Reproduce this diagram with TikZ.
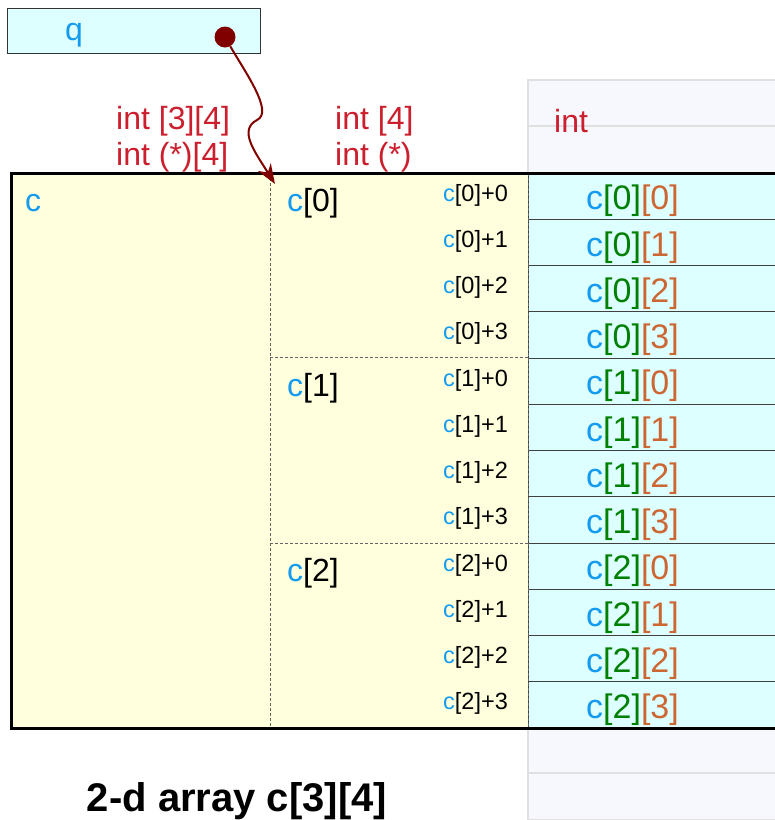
\documentclass[tikz,border=0pt]{standalone}
\usepackage{fontspec}
\setmainfont{Liberation Sans}
\usetikzlibrary{arrows.meta,positioning,calc}
\definecolor{cblue}{RGB}{20,155,240}
\definecolor{idxgreen}{RGB}{0,128,0}
\definecolor{idxorange}{RGB}{204,102,51}
\definecolor{typered}{RGB}{204,30,45}
\definecolor{ptrred}{RGB}{128,0,0}
\definecolor{cellcyan}{RGB}{221,255,255}
\definecolor{areayellow}{RGB}{255,255,221}
\definecolor{panelgray}{RGB}{247,248,253}

\begin{document}
\begin{tikzpicture}[x=1pt, y=-1pt,
    bigfont/.style={font=\fontsize{32}{38}\selectfont},
    elemfont/.style={font=\fontsize{34}{40}\selectfont},
    smallfont/.style={font=\fontsize{23.5}{28}\selectfont},
    elem/.style={elemfont, anchor=west, inner sep=0pt},
    rowname/.style={bigfont, anchor=west, inner sep=0pt},
    offs/.style={smallfont, anchor=west, inner sep=0pt},
    typelabel/.style={bigfont, anchor=west, inner sep=0pt, text=typered},
    cellline/.style={draw=black!75, line width=0.8pt, fill=cellcyan},
    divider/.style={draw=black!60, line width=0.6pt, dash pattern=on 3pt off 2pt},
    ptr/.style={draw=ptrred, line width=2pt, -{Stealth[length=20pt, width=15pt]}},
]
    \useasboundingbox (0,0) rectangle (775,820);

    % memory panel above and below the int cells
    \fill[panelgray] (528,80) rectangle (790,173);
    \fill[panelgray] (528,728) rectangle (790,830);
    \draw[black!12, line width=1.2pt] (528,830) -- (528,80) -- (790,80);
    \draw[black!12, line width=1.2pt] (528,126) -- (790,126);
    \draw[black!12, line width=1.2pt] (528,773) -- (790,773);
    \draw[black!12, line width=1.2pt] (528,820) -- (790,820);

    % array area
    \fill[areayellow] (11,173) rectangle (528,728);

    % int cells
    \foreach \k in {0,...,11}{
        \draw[cellline] (528,{173+46.25*\k}) rectangle (790,{173+46.25*(\k+1)});
    }

    % row dividers
    \draw[divider] (270,173) -- (270,728);
    \draw[divider] (528,173) -- (528,728);
    \draw[divider] (270,357.5) -- (528,357.5);
    \draw[divider] (270,543) -- (528,543);

    % outer frame
    \draw[line width=3pt] (800,173) -- (11,173) -- (11,728) -- (800,728);

    % type labels
    \node[typelabel] (t2a) at (116,121) {int [3][4]};
    \node[typelabel] (t2b) at (116,157) {int (*)[4]};
    \node[typelabel] (t1a) at (335,121) {int [4]};
    \node[typelabel] (t1b) at (335,157) {int (*)};
    \node[typelabel] (t0) at (554,121) {int};

    % names
    \node[rowname, text=cblue] (cname) at (25,203) {c};
    \foreach \i in {0,1,2}{
        \node[rowname] (row\i) at (287,{203+185*\i}) {\textcolor{cblue}{c}[\i]};
        \foreach \j in {0,1,2,3}{
            \pgfmathtruncatemacro{\k}{4*\i+\j}
            \node[offs] (off\i\j) at (443,{195+46.25*\k}) {\textcolor{cblue}{c}[\i]+\j};
            \node[elem] (el\i\j) at (586,{201+46.25*\k})
                {\textcolor{cblue}{c}\textcolor{idxgreen}{[\i]}\textcolor{idxorange}{[\j]}};
        }
    }

    % pointer q
    \node[draw=black!80, line width=0.8pt, fill=cellcyan, anchor=north west,
          minimum width=253pt, minimum height=45pt, inner sep=0pt] (qbox) at (7,8) {};
    \node[rowname, text=cblue] (qname) at (65,35) {q};
    \node[circle, fill=ptrred, minimum size=21pt, inner sep=0pt] (qdot) at (225,37) {};
    \coordinate (c0top) at (275,184);
    \draw[ptr] (qdot) .. controls (245,72) and (274,112) .. (257,120)
        .. controls (238,130) and (255,152) .. (c0top);

    % caption
    \node[font=\fontsize{40}{46}\selectfont\bfseries, inner sep=0pt] (caption) at (237,801) {2-d array c[3][4]};
\end{tikzpicture}
\end{document}
